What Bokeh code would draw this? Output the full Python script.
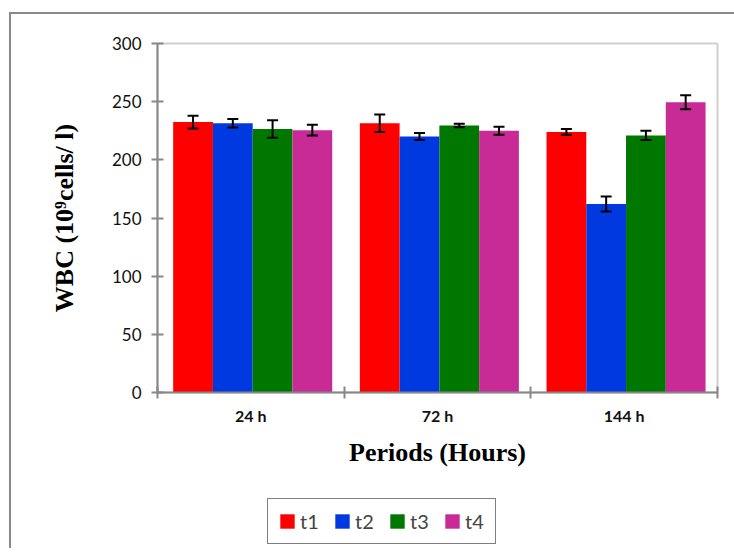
from bokeh.plotting import figure
from bokeh.layouts import column, row
from bokeh.models import (ColumnDataSource, Range1d, FixedTicker, Whisker, TeeHead,
                          Legend, LegendItem, Spacer)
from bokeh.transform import dodge
from bokeh.embed import file_html
from bokeh.resources import INLINE

# ---- data ----
periods = ["24 h", "72 h", "144 h"]
series = ["t1", "t2", "t3", "t4"]
t1 = [232.5, 231.5, 224.0]
t2 = [231.5, 220.0, 162.0]
t3 = [226.5, 229.5, 221.0]
t4 = [225.5, 225.0, 249.5]
t1_err = [5.5, 7.5, 2.5]
t2_err = [3.7, 3.0, 6.5]
t3_err = [7.5, 1.5, 4.0]
t4_err = [4.6, 3.5, 6.0]
colors = ["#FF0000", "#0039E0", "#007800", "#C82A96"]
y_ticks = [0, 50, 100, 150, 200, 250, 300]

values = [t1, t2, t3, t4]
errors = [t1_err, t2_err, t3_err, t4_err]

xc = [i + 0.5 for i in range(len(periods))]
bar_w = 0.213
offsets = [(-1.5 + k) * bar_w + 0.01 for k in range(len(series))]

p = figure(width=723, height=482, output_backend="svg", toolbar_location=None,
           x_range=Range1d(0, len(periods)), y_range=Range1d(0, 300),
           min_border_left=146, min_border_top=29, min_border_right=17,
           min_border_bottom=104)

p.xgrid.visible = False
p.ygrid.visible = False
p.outline_line_color = "#d0d0d0"
p.outline_line_width = 2
p.background_fill_color = "white"
p.border_fill_color = "white"

for k, name in enumerate(series):
    src = ColumnDataSource(dict(xc=xc, top=values[k],
                                upper=[v + e for v, e in zip(values[k], errors[k])],
                                lower=[v - e for v, e in zip(values[k], errors[k])]))
    p.vbar(x=dodge("xc", offsets[k]), top="top", bottom=0, width=bar_w,
           source=src, fill_color=colors[k], line_color=None)
    w = Whisker(source=src, base=dodge("xc", offsets[k]), upper="upper", lower="lower",
                line_color="black", line_width=2, level="overlay",
                upper_head=TeeHead(size=11, line_color="black", line_width=2),
                lower_head=TeeHead(size=11, line_color="black", line_width=2))
    p.add_layout(w)

# x axis
xa = p.xaxis[0]
xa.ticker = FixedTicker(ticks=xc, minor_ticks=list(range(len(periods) + 1)))
xa.major_label_overrides = {x: lab for x, lab in zip(xc, periods)}
xa.major_tick_line_color = None
xa.minor_tick_line_color = "#888888"
xa.minor_tick_line_width = 2
xa.minor_tick_in = 6
xa.minor_tick_out = 6
xa.axis_line_color = "#888888"
xa.axis_line_width = 2
xa.major_label_text_font = "Lato"
xa.major_label_text_font_style = "bold"
xa.major_label_text_font_size = "16px"
xa.major_label_text_color = "#111111"
xa.major_label_standoff = 7
xa.axis_label = "Periods (Hours)"
xa.axis_label_text_font = "Liberation Serif"
xa.axis_label_text_font_style = "bold"
xa.axis_label_text_font_size = "26px"
xa.axis_label_text_color = "black"
xa.axis_label_standoff = 10

# y axis
ya = p.yaxis[0]
ya.ticker = FixedTicker(ticks=y_ticks, minor_ticks=[])
ya.major_tick_line_color = "#888888"
ya.major_tick_line_width = 2
ya.major_tick_in = 6
ya.major_tick_out = 6
ya.axis_line_color = "#888888"
ya.axis_line_width = 2
ya.major_label_text_font = "Lato"
ya.major_label_text_font_size = "17px"
ya.major_label_text_color = "#111111"
ya.major_label_standoff = 10
ya.axis_label = "WBC (10\u2079cells/ l)"
ya.axis_label_text_font = "Liberation Serif"
ya.axis_label_text_font_style = "bold"
ya.axis_label_text_font_size = "26px"
ya.axis_label_text_color = "black"
ya.axis_label_standoff = 30

# legend in its own small figure below (proxy bars kept outside its visible range)
lf = figure(width=240, height=52, output_backend="svg", toolbar_location=None,
            x_axis_type=None, y_axis_type=None, min_border=0,
            x_range=Range1d(-20, -10), y_range=Range1d(-20, -10))
lf.outline_line_color = None
lf.border_fill_color = "white"
lf.background_fill_color = "white"
items = []
for k, name in enumerate(series):
    r = lf.vbar(x=xc, top=values[k], width=bar_w, fill_color=colors[k], line_color=None)
    items.append(LegendItem(label=name, renderers=[r]))
legend = Legend(items=items, orientation="horizontal", location="top_left",
                border_line_color="black", border_line_width=1.5,
                label_text_font="Lato", label_text_font_size="20px",
                glyph_width=18, glyph_height=18, label_standoff=4, spacing=13,
                padding=10, margin=2, background_fill_alpha=1)
lf.add_layout(legend, "center")

bottom_row = row(Spacer(width=254, height=52), lf, spacing=0)
layout = column(p, bottom_row, spacing=0)
layout.styles = {"border-left": "2px solid #8a8a8a", "border-top": "2px solid #8a8a8a",
                 "margin-left": "9px", "margin-top": "12px"}

open("out.html", "w").write(file_html(layout, INLINE))
